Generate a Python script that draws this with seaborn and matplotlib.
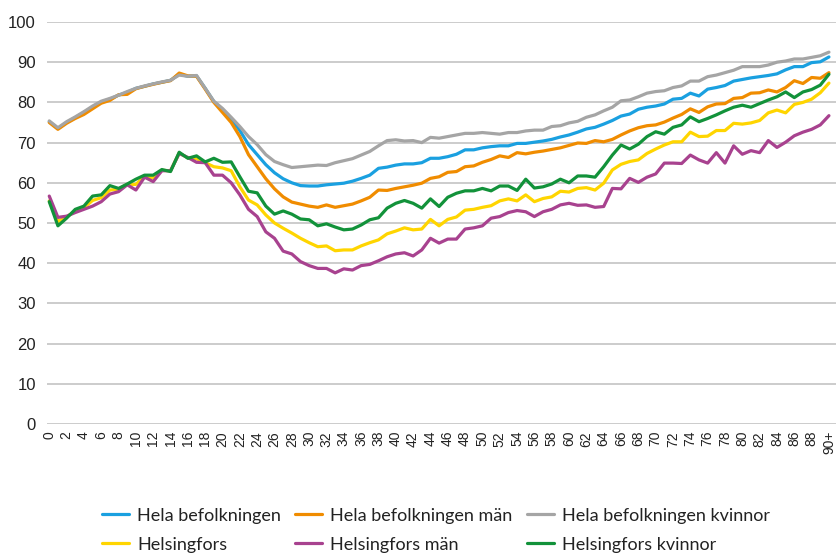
import matplotlib
matplotlib.use("Agg")
import matplotlib.pyplot as plt
import seaborn as sns
import pandas as pd
import numpy as np

ages = list(range(91))
tick_labels = [str(a) for a in range(0, 90, 2)] + ["90+"]

hela = [75.2, 73.5, 75.0, 76.2, 77.5, 78.8, 80.1, 80.8, 81.8, 82.5,
        83.5, 84.0, 84.6, 85.0, 85.5, 87.0, 86.5, 86.6, 83.5, 80.2,
        78.2, 75.8, 73.0, 69.5, 67.0, 64.5, 62.5, 61.0, 60.0, 59.3,
        59.2, 59.2, 59.5, 59.7, 59.9, 60.4, 61.1, 61.9, 63.6, 63.9,
        64.4, 64.7, 64.7, 65.0, 66.1, 66.1, 66.5, 67.1, 68.2, 68.2,
        68.7, 69.0, 69.2, 69.2, 69.8, 69.8, 70.1, 70.4, 70.8, 71.4,
        71.9, 72.6, 73.4, 73.8, 74.6, 75.5, 76.6, 77.1, 78.3, 78.8,
        79.1, 79.6, 80.8, 81.0, 82.3, 81.6, 83.3, 83.7, 84.2, 85.3,
        85.7, 86.1, 86.4, 86.7, 87.1, 88.1, 88.9, 88.9, 89.9, 90.1,
        91.3]

hela_man = [75.0, 73.3, 74.8, 76.0, 77.0, 78.4, 79.8, 80.5, 81.9, 82.0,
            83.4, 84.0, 84.5, 85.0, 85.4, 87.3, 86.6, 86.5, 83.3, 80.0,
            77.5, 75.0, 71.5, 67.0, 64.0, 61.0, 58.5, 56.5, 55.2, 54.7,
            54.2, 53.9, 54.5, 53.9, 54.3, 54.7, 55.5, 56.4, 58.2, 58.1,
            58.6, 59.0, 59.4, 59.9, 61.1, 61.5, 62.6, 62.8, 64.0, 64.2,
            65.1, 65.8, 66.7, 66.3, 67.5, 67.2, 67.6, 67.9, 68.3, 68.7,
            69.3, 69.9, 69.8, 70.5, 70.2, 70.8, 71.9, 72.9, 73.7, 74.2,
            74.4, 75.1, 76.1, 77.0, 78.4, 77.5, 78.9, 79.6, 79.7, 81.0,
            81.2, 82.3, 82.4, 83.1, 82.6, 83.7, 85.4, 84.7, 86.2, 86.0,
            87.4]

hela_kvinnor = [75.4, 73.7, 75.2, 76.4, 77.7, 79.1, 80.3, 81.0, 81.8, 82.7,
                83.5, 84.1, 84.6, 85.1, 85.5, 86.8, 86.5, 86.7, 83.5, 80.3,
                78.5, 76.3, 74.0, 71.5, 69.5, 67.0, 65.3, 64.5, 63.8, 64.0,
                64.2, 64.4, 64.3, 65.0, 65.5, 66.0, 66.9, 67.8, 69.2, 70.5,
                70.7, 70.4, 70.5, 70.0, 71.3, 71.1, 71.5, 71.9, 72.3, 72.3,
                72.5, 72.3, 72.1, 72.5, 72.5, 72.9, 73.1, 73.1, 74.0, 74.2,
                74.9, 75.3, 76.3, 76.9, 77.9, 78.8, 80.4, 80.6, 81.4, 82.3,
                82.7, 82.9, 83.7, 84.1, 85.3, 85.3, 86.4, 86.8, 87.4, 88.0,
                88.9, 88.9, 88.9, 89.3, 90.0, 90.3, 90.8, 90.8, 91.2, 91.6,
                92.5]

hfors = [55.5, 50.4, 51.5, 53.0, 53.8, 55.6, 56.3, 58.2, 58.4, 59.6,
         59.6, 61.6, 61.2, 63.1, 63.0, 67.4, 66.2, 66.0, 65.0, 64.0,
         63.7, 63.0, 59.0, 55.7, 54.5, 52.0, 50.0, 48.7, 47.5, 46.2,
         45.1, 44.1, 44.3, 43.1, 43.3, 43.3, 44.3, 45.1, 45.8, 47.3,
         48.0, 48.8, 48.3, 48.5, 50.9, 49.3, 50.9, 51.5, 53.2, 53.4,
         53.9, 54.3, 55.5, 56.0, 55.5, 57.0, 55.3, 56.1, 56.5, 57.9,
         57.7, 58.6, 58.8, 58.2, 59.9, 63.2, 64.6, 65.3, 65.7, 67.3,
         68.4, 69.4, 70.2, 70.2, 72.6, 71.5, 71.6, 73.0, 73.0, 74.8,
         74.6, 74.9, 75.5, 77.4, 78.1, 77.4, 79.5, 80.0, 80.8, 82.4,
         84.8]

hfors_man = [56.7, 51.4, 51.7, 52.6, 53.4, 54.2, 55.3, 57.2, 57.8, 59.5,
             58.2, 61.4, 60.3, 63.0, 63.0, 67.3, 66.3, 65.1, 65.0, 61.9,
             61.9, 60.0, 57.0, 53.4, 51.6, 47.8, 46.2, 43.0, 42.3, 40.4,
             39.4, 38.7, 38.7, 37.6, 38.6, 38.3, 39.4, 39.7, 40.6, 41.6,
             42.3, 42.6, 41.8, 43.3, 46.2, 45.0, 46.0, 46.0, 48.5, 48.8,
             49.3, 51.2, 51.6, 52.6, 53.1, 52.8, 51.6, 52.8, 53.4, 54.5,
             54.9, 54.4, 54.5, 53.9, 54.1, 58.6, 58.5, 61.1, 60.1, 61.4,
             62.2, 64.9, 64.9, 64.8, 66.9, 65.7, 64.9, 67.5, 64.9, 69.2,
             67.1, 68.0, 67.5, 70.5, 68.8, 70.1, 71.7, 72.6, 73.3, 74.4,
             76.7]

hfors_kvinnor = [55.3, 49.3, 51.2, 53.4, 54.2, 56.7, 57.0, 59.3, 58.6, 59.7,
                 60.9, 61.9, 61.9, 63.3, 62.8, 67.6, 66.1, 66.7, 65.2, 66.1,
                 65.1, 65.2, 61.5, 57.9, 57.5, 54.2, 52.2, 53.0, 52.2, 51.0,
                 50.8, 49.3, 49.8, 49.0, 48.3, 48.5, 49.5, 50.8, 51.3, 53.7,
                 54.9, 55.6, 54.9, 53.7, 56.0, 54.1, 56.4, 57.4, 58.0, 58.0,
                 58.6, 58.0, 59.2, 59.2, 58.1, 60.9, 58.7, 59.0, 59.7, 60.9,
                 60.0, 61.7, 61.7, 61.4, 64.0, 66.9, 69.4, 68.4, 69.6, 71.5,
                 72.7, 72.1, 73.8, 74.4, 76.4, 75.2, 76.0, 76.9, 77.9, 78.8,
                 79.3, 78.8, 79.7, 80.6, 81.4, 82.6, 81.2, 82.6, 83.2, 84.3,
                 87.0]

series_names = ["Hela befolkningen", "Hela befolkningen män", "Hela befolkningen kvinnor",
                "Helsingfors", "Helsingfors män", "Helsingfors kvinnor"]
series_values = [hela, hela_man, hela_kvinnor, hfors, hfors_man, hfors_kvinnor]
colors = ["#1AA0E0", "#F08C00", "#A5A5A5", "#FFD500", "#A8428F", "#12923A"]

df = pd.concat([pd.DataFrame({"age": ages, "value": v, "serie": n})
                for n, v in zip(series_names, series_values)], ignore_index=True)

sns.set_style("white")
plt.rcParams["font.family"] = ["Liberation Sans", "DejaVu Sans"]

fig = plt.figure(figsize=(8.37, 5.54), dpi=100)
ax = fig.add_axes([47 / 837, 1 - 424 / 554, 790 / 837, (424 - 22) / 554])

sns.lineplot(data=df, x="age", y="value", hue="serie", hue_order=series_names,
             palette=colors, linewidth=2.3, ax=ax, legend=True)

ax.set_xlim(-0.26, 90.93)
ax.set_ylim(0, 100)
ax.set_yticks(range(0, 101, 10))
ax.set_xticks(list(range(0, 91, 2)))
ax.set_xticklabels(tick_labels, rotation=90, fontsize=10, color="#222222")
ax.tick_params(axis="y", labelsize=12, colors="#222222", length=0, pad=8)
ax.tick_params(axis="x", length=0, pad=5)
ax.set_xlabel("")
ax.set_ylabel("")
ax.grid(axis="y", color="#BFBFBF", linewidth=1.1)
ax.grid(axis="x", visible=False)
ax.set_axisbelow(True)
for s in ax.spines.values():
    s.set_visible(False)

handles, labels = ax.get_legend_handles_labels()
ax.get_legend().remove()
order = [0, 3, 1, 4, 2, 5]
leg = fig.legend([handles[i] for i in order], [labels[i] for i in order],
                 ncol=3, loc="center", bbox_to_anchor=(0.521, 0.043),
                 frameon=False, borderpad=0, handlelength=1.5, handletextpad=0.45,
                 columnspacing=0.8, labelspacing=0.72,
                 prop={"family": ["Lato", "DejaVu Sans"], "size": 13})
for t in leg.get_texts():
    t.set_color("#222222")

fig.savefig("out.png", dpi=100)
